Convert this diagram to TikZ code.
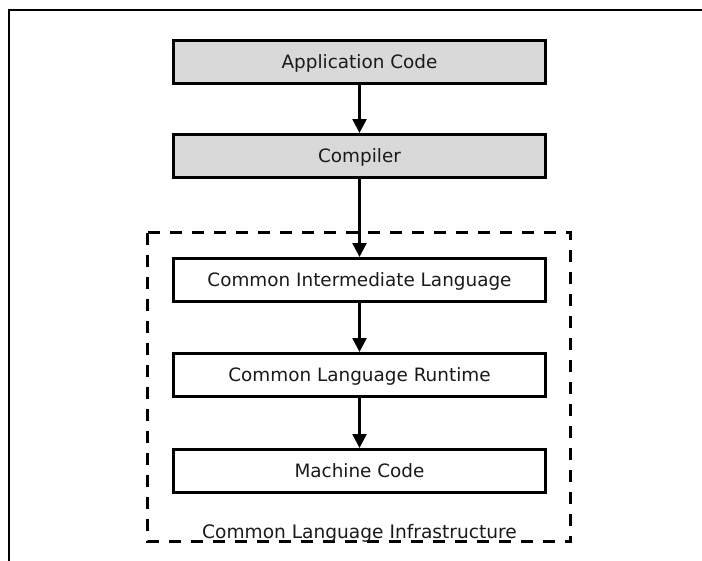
\documentclass[tikz,border=0pt]{standalone}
\usepackage{fontspec}
\setmainfont{DejaVu Sans}
\usetikzlibrary{arrows.meta}
\definecolor{boxgrey}{HTML}{D9D9D9}
\definecolor{txt}{HTML}{1A1A1A}
\tikzset{
  stagebox/.style={draw=black, line width=3pt, minimum width=372pt, minimum height=43pt,
    inner sep=0pt, text height=13.4pt, text depth=0pt, text=txt, font=\fontsize{18.4}{20}\selectfont},
  greybox/.style={stagebox, fill=boxgrey},
  whitebox/.style={stagebox, fill=white},
  flow/.style={line width=2.5pt, -{Triangle[width=14pt,length=14pt]}},
}
\begin{document}
\begin{tikzpicture}[x=1pt,y=-1pt]
\useasboundingbox (0,0) rectangle (702,560);
\fill[white] (0,0) rectangle (702,560);
% outer frame (only top and left visible)
\draw[line width=2pt] (9,570) -- (9,10) -- (712,10);
% dashed container
\draw[line width=3pt, dash pattern=on 12pt off 10pt] (147.5,232.5) rectangle (570.5,541.5);
\node[font=\fontsize{18.6}{20}\selectfont, text=txt, anchor=base] (cli) at (359.5,538) {Common Language Infrastructure};
% stages
\node[greybox] (app) at (359.5,62) {Application Code};
\node[greybox] (comp) at (359.5,156) {Compiler};
\node[whitebox] (cil) at (359.5,280) {Common Intermediate Language};
\node[whitebox] (clr) at (359.5,375) {Common Language Runtime};
\node[whitebox] (mc) at (359.5,471) {Machine Code};
% connectors
\draw[flow] (app) -- (comp);
\draw[flow] (comp) -- (cil);
\draw[flow] (cil) -- (clr);
\draw[flow] (clr) -- (mc);
\end{tikzpicture}
\end{document}
